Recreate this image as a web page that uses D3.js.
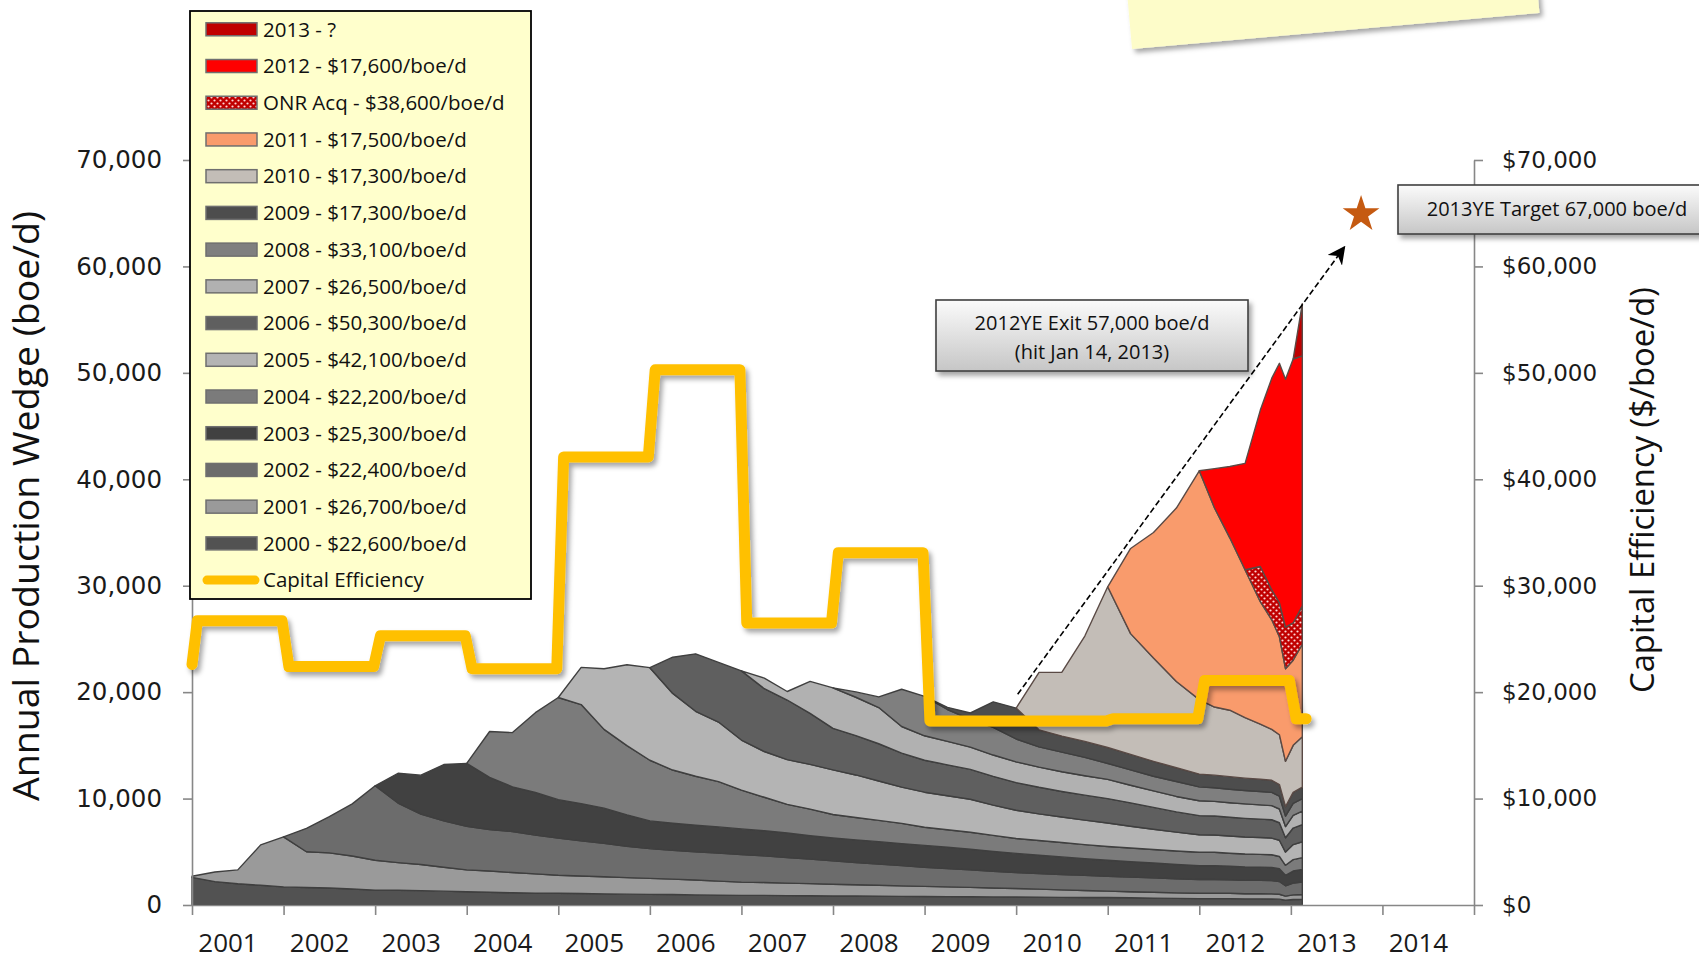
<!doctype html>
<html lang="en">
<head>
<meta charset="utf-8">
<title>Annual Production Wedge and Capital Efficiency</title>
<style>
  body { margin: 0; background: #fff; overflow: hidden; }
  svg { display: block; }
</style>
</head>
<body>
<div id="chart"></div>

<script src="https://d3js.org/d3.v7.min.js"></script>
<script>

const width = 1699;
const height = 961;

// months since Jan 2001 (quarterly, denser near the end of the record)
const months = [0,3,6,9,12,15,18,21,24,27,30,33,36,39,42,45,48,51,54,57,60,63,66,69,72,75,78,81,84,87,90,93,96,99,102,105,108,111,114,117,120,123,126,129,
                132,134,136,138,140,141.5,142.5,143.3,144.3,145.5];

// production of each yearly wedge, thousand boe/d
const prod2000 = [2.6,2.2,2.0,1.85,1.7,1.65,1.6,1.5,1.4,1.38,1.35,1.3,1.25,1.2,1.15,1.12,1.1,1.08,1.05,1.02,1.0,0.98,0.95,0.92,0.9,0.9,0.88,0.87,0.85,0.84,0.82,0.81,0.8,0.79,0.78,0.76,0.75,0.74,0.72,0.71,0.7,0.68,0.65,0.62,
                  0.6,0.6,0.6,0.58,0.58,0.57,0.55,0.45,0.52,0.54];
const prod2001 = [0.1,0.9,1.3,3.8,4.7,3.35,3.3,3.1,2.8,2.6,2.45,2.25,2.05,2.0,1.9,1.8,1.7,1.65,1.6,1.55,1.5,1.45,1.4,1.32,1.25,1.22,1.18,1.14,1.1,1.06,1.03,0.99,0.95,0.91,0.88,0.84,0.8,0.75,0.7,0.65,0.6,0.57,0.55,0.52,
                  0.5,0.5,0.5,0.48,0.48,0.48,0.46,0.38,0.43,0.45];
const prod2002 = [0,0,0,0,0,2.2,3.4,4.9,7.0,5.6,4.75,4.35,4.1,3.9,3.85,3.65,3.5,3.3,3.15,2.95,2.8,2.7,2.65,2.65,2.6,2.5,2.4,2.3,2.2,2.1,2.0,1.9,1.8,1.72,1.65,1.57,1.5,1.47,1.45,1.42,1.4,1.37,1.35,1.32,
                  1.3,1.3,1.27,1.26,1.25,1.24,1.2,0.98,1.12,1.17];
const prod2003 = [0,0,0,0,0,0,0,0,0,2.8,3.65,5.3,5.9,4.9,4.2,4.0,3.6,3.5,3.3,2.95,2.6,2.55,2.5,2.45,2.4,2.35,2.3,2.2,2.15,2.12,2.1,2.07,2.05,2.0,1.93,1.87,1.8,1.72,1.65,1.57,1.5,1.45,1.4,1.35,
                  1.3,1.3,1.27,1.26,1.25,1.24,1.2,0.98,1.12,1.17];
const prod2004 = [0,0,0,0,0,0,0,0,0,0,0,0,0,4.3,5.1,7.5,9.6,9.3,7.4,6.5,5.7,5.0,4.6,4.25,3.65,3.15,2.7,2.5,2.2,2.1,2.0,1.9,1.7,1.65,1.6,1.5,1.4,1.38,1.35,1.32,1.3,1.28,1.27,1.26,
                  1.25,1.25,1.22,1.21,1.2,1.19,1.15,0.94,1.07,1.12];
const prod2005 = [0,0,0,0,0,0,0,0,0,0,0,0,0,0,0,0,0,3.5,5.7,7.6,8.7,7.2,6.1,5.6,4.7,4.3,4.2,4.2,4.2,4.0,3.7,3.4,3.3,3.2,3.1,2.85,2.65,2.5,2.4,2.3,2.2,2.05,1.9,1.78,
                  1.65,1.63,1.62,1.6,1.58,1.57,1.52,1.24,1.42,1.49];
const prod2006 = [0,0,0,0,0,0,0,0,0,0,0,0,0,0,0,0,0,0,0,0,0,3.4,5.4,5.6,6.5,5.9,5.6,4.8,3.9,3.7,3.5,3.2,3.0,2.9,2.8,2.7,2.6,2.5,2.4,2.35,2.3,2.2,2.05,1.9,
                  1.8,1.78,1.76,1.75,1.73,1.72,1.65,1.35,1.55,1.62];
const prod2007 = [0,0,0,0,0,0,0,0,0,0,0,0,0,0,0,0,0,0,0,0,0,0,0,0,0,1.0,0.8,3.0,3.8,3.6,3.4,2.5,2.3,2.2,2.1,2.0,1.95,1.9,1.85,1.82,1.8,1.65,1.55,1.45,
                  1.4,1.38,1.37,1.36,1.34,1.33,1.29,1.05,1.2,1.26];
const prod2008 = [0,0,0,0,0,0,0,0,0,0,0,0,0,0,0,0,0,0,0,0,0,0,0,0,0,0,0,0,0,0.5,1.0,3.5,3.7,3.0,2.6,2.6,2.15,1.9,1.85,1.73,1.5,1.45,1.38,1.4,
                  1.3,1.28,1.27,1.26,1.25,1.24,1.2,0.98,1.12,1.17];
const prod2009 = [0,0,0,0,0,0,0,0,0,0,0,0,0,0,0,0,0,0,0,0,0,0,0,0,0,0,0,0,0,0,0,0,0,0.2,0.6,2.4,2.9,1.6,1.5,1.5,1.5,1.45,1.4,1.3,
                  1.2,1.18,1.18,1.16,1.15,1.14,1.1,0.9,1.03,1.08];
const prod2010 = [0,0,0,0,0,0,0,0,0,0,0,0,0,0,0,0,0,0,0,0,0,0,0,0,0,0,0,0,0,0,0,0,0,0,0,0,0,5.4,6.0,9.9,15.1,11.35,9.7,8.1,
                  7.0,6.4,6.24,5.68,5.19,4.78,4.68,4.25,4.42,4.73];
const prod2011 = [0,0,0,0,0,0,0,0,0,0,0,0,0,0,0,0,0,0,0,0,0,0,0,0,0,0,0,0,0,0,0,0,0,0,0,0,0,0,0,0,0,8.0,11.8,16.3,
                  21.5,18.7,16.2,13.9,11.5,10.3,9.2,8.7,8.0,8.7];
const prodOnr  = [0,0,0,0,0,0,0,0,0,0,0,0,0,0,0,0,0,0,0,0,0,0,0,0,0,0,0,0,0,0,0,0,0,0,0,0,0,0,0,0,0,0,0,0,
                  0,0,0,0,3.3,2.8,3.2,3.9,3.5,3.6];
const prod2012 = [0,0,0,0,0,0,0,0,0,0,0,0,0,0,0,0,0,0,0,0,0,0,0,0,0,0,0,0,0,0,0,0,0,0,0,0,0,0,0,0,0,0,0,0,
                  0,3.7,6.7,10.0,14.7,19.9,22.5,23.3,24.8,23.5];
const prod2013 = [0,0,0,0,0,0,0,0,0,0,0,0,0,0,0,0,0,0,0,0,0,0,0,0,0,0,0,0,0,0,0,0,0,0,0,0,0,0,0,0,0,0,0,0,
                  0,0,0,0,0,0,0,0,0,4.9];

const wedgeKeys = ["2000","2001","2002","2003","2004","2005","2006","2007","2008","2009","2010","2011","ONR Acq","2012","2013"];
const wedgeCosts = [22600,26700,22400,25300,22200,42100,50300,26500,33100,17300,17300,17500,38600,17600,null]; // $/boe/d
const wedgeValues = [prod2000,prod2001,prod2002,prod2003,prod2004,prod2005,prod2006,prod2007,prod2008,prod2009,prod2010,prod2011,prodOnr,prod2012,prod2013];

// capital efficiency by year, thousand $/boe/d
const capYears = [2000,2001,2002,2003,2004,2005,2006,2007,2008,2009,2010,2011,2012,2013];
const capEfficiency = [22.6,26.7,22.4,25.3,22.2,42.1,50.3,26.5,33.1,17.3,17.3,17.5,21.1,17.5];

const yearLabels = ["2001","2002","2003","2004","2005","2006","2007","2008","2009","2010","2011","2012","2013","2014"];
const yTicks = [0,10,20,30,40,50,60,70];

// annotations (month since Jan 2001, thousand boe/d)
const trendFrom = [108.2, 19.8];
const trendTo = [151.0, 61.8];
const target = [153.2, 64.9];

const wedgeColors = {
  "2000": "#525252", "2001": "#9a9a9a", "2002": "#6c6c6c", "2003": "#414141",
  "2004": "#7b7b7b", "2005": "#b4b4b4", "2006": "#5f5f5f", "2007": "#b1b1b1",
  "2008": "#7f7f7f", "2009": "#4d4d4d", "2010": "#c3bdb7", "2011": "#f99b6c",
  "ONR Acq": "url(#onrDots)", "2012": "#ff0000", "2013": "#c00000"
};

const svg = d3.select("#chart").append("svg")
    .attr("width", width)
    .attr("height", height)
    .attr("viewBox", "0 0 " + width + " " + height);

const defs = svg.append("defs");

const dots = defs.append("pattern")
    .attr("id", "onrDots")
    .attr("patternUnits", "userSpaceOnUse")
    .attr("width", 6).attr("height", 6);
dots.append("rect").attr("width", 6).attr("height", 6).attr("fill", "#c00000");
dots.append("circle").attr("cx", 1.5).attr("cy", 1.5).attr("r", 1.1).attr("fill", "#ffd6d6");
dots.append("circle").attr("cx", 4.5).attr("cy", 4.5).attr("r", 1.1).attr("fill", "#ffd6d6");

defs.append("filter").attr("id", "shadow")
    .attr("x", "-10%").attr("y", "-10%").attr("width", "130%").attr("height", "140%")
  .append("feDropShadow")
    .attr("dx", 3).attr("dy", 4).attr("stdDeviation", 2.5)
    .attr("flood-color", "#000").attr("flood-opacity", 0.35);

const boxGrad = defs.append("linearGradient")
    .attr("id", "boxGrad").attr("x1", 0).attr("y1", 0).attr("x2", 0).attr("y2", 1);
boxGrad.append("stop").attr("offset", "0%").attr("stop-color", "#fbfbfb");
boxGrad.append("stop").attr("offset", "100%").attr("stop-color", "#c6c6c6");

defs.append("marker")
    .attr("id", "arrowHead")
    .attr("markerUnits", "userSpaceOnUse")
    .attr("viewBox", "0 0 10 10")
    .attr("refX", 9).attr("refY", 5)
    .attr("markerWidth", 18).attr("markerHeight", 18)
    .attr("orient", "auto")
  .append("path")
    .attr("d", "M0,0 L10,5 L0,10 L3,5 Z")
    .attr("fill", "#000");

const x = d3.scaleLinear().domain([0, 168]).range([192, 1474]);
const y = d3.scaleLinear().domain([0, 70]).range([905, 160]);

// sticky note at the top
svg.append("rect")
    .attr("x", 1132).attr("y", 49 - 160)
    .attr("width", 409).attr("height", 160)
    .attr("fill", "#fdfcc9")
    .attr("filter", "url(#shadow)")
    .attr("transform", "rotate(-5.06 1132 49)");

// stacked production wedges
const rows = months.map(function (m, i) {
    const r = {month: m};
    wedgeKeys.forEach(function (k, j) { r[k] = wedgeValues[j][i]; });
    return r;
});
const layers = d3.stack().keys(wedgeKeys)(rows);

const area = d3.area()
    .x(d => x(d.data.month))
    .y0(d => y(d[0]))
    .y1(d => y(d[1]));

const gArea = svg.append("g");
layers.forEach(function (layer, j) {
    const first = wedgeValues[j].findIndex(v => v > 0);
    gArea.append("path")
        .datum(layer.slice(Math.max(0, first - 1)))
        .attr("d", area)
        .attr("fill", wedgeColors[layer.key])
        .attr("stroke", j >= 10 ? "#5a4a45" : "#3f3f3f")
        .attr("stroke-width", 1.4)
        .attr("stroke-linejoin", "round");
});

// axes
const axisColor = "#878787";

const leftAxis = svg.append("g")
    .attr("transform", "translate(192,0)")
    .call(d3.axisLeft(y).tickValues(yTicks).tickSize(9).tickSizeOuter(0).tickPadding(21)
        .tickFormat(d => d3.format(",")(d * 1000)));

const rightAxis = svg.append("g")
    .attr("transform", "translate(1474,0)")
    .call(d3.axisRight(y).tickValues(yTicks).tickSize(9).tickSizeOuter(0).tickPadding(19)
        .tickFormat(d => "$" + d3.format(",")(d * 1000)));

const bottomAxis = svg.append("g")
    .attr("transform", "translate(0,905)")
    .call(d3.axisBottom(x).tickValues(d3.range(0, 169, 12)).tickSize(10).tickSizeOuter(0).tickFormat(""));

[leftAxis, rightAxis, bottomAxis].forEach(function (a) {
    a.selectAll("path, line").attr("stroke", axisColor).attr("stroke-width", 1.6);
    a.selectAll("text").attr("fill", "#1a1a1a").style("font-family", "'DejaVu Sans', Verdana, sans-serif");
});
leftAxis.selectAll("text").style("font-size", "24.5px");
rightAxis.selectAll("text").style("font-size", "23px");

svg.append("g").selectAll("text")
    .data(yearLabels)
    .join("text")
    .attr("x", (d, i) => x(i * 12) + 36)
    .attr("y", 952)
    .attr("text-anchor", "middle")
    .style("font-family", "'Open Sans', sans-serif")
    .style("font-size", "26px")
    .attr("fill", "#1a1a1a")
    .text(d => d);

svg.append("text")
    .attr("transform", "translate(39,506) rotate(-90)")
    .attr("text-anchor", "middle")
    .attr("textLength", 590)
    .attr("lengthAdjust", "spacingAndGlyphs")
    .style("font-family", "'Open Sans', sans-serif")
    .style("font-size", "36px")
    .attr("fill", "#111")
    .text("Annual Production Wedge (boe/d)");

svg.append("text")
    .attr("transform", "translate(1654,490) rotate(-90)")
    .attr("text-anchor", "middle")
    .attr("textLength", 406)
    .attr("lengthAdjust", "spacingAndGlyphs")
    .style("font-family", "'Open Sans', sans-serif")
    .style("font-size", "32px")
    .attr("fill", "#111")
    .text("Capital Efficiency ($/boe/d)");

// capital efficiency step line
const capPoints = [[0, capEfficiency[0]]];
for (let k = 1; k < capYears.length; k++) {
    const start = 12 * (k - 1) + 0.7;
    const end = k === capYears.length - 1 ? 146 : 12 * k - 0.2;
    capPoints.push([start, capEfficiency[k]], [end, capEfficiency[k]]);
}
svg.append("path")
    .datum(capPoints)
    .attr("d", d3.line().x(d => x(d[0])).y(d => y(d[1])))
    .attr("fill", "none")
    .attr("stroke", "#ffc000")
    .attr("stroke-width", 11)
    .attr("stroke-linejoin", "round")
    .attr("stroke-linecap", "round")
    .attr("filter", "url(#shadow)");

// trend arrow and target star
svg.append("line")
    .attr("x1", x(trendFrom[0])).attr("y1", y(trendFrom[1]))
    .attr("x2", x(trendTo[0])).attr("y2", y(trendTo[1]))
    .attr("stroke", "#000")
    .attr("stroke-width", 1.6)
    .attr("stroke-dasharray", "6,3")
    .attr("marker-end", "url(#arrowHead)");

svg.append("path")
    .attr("transform", "translate(" + x(target[0]) + "," + y(target[1]) + ")")
    .attr("d", d3.symbol().type(d3.symbolStar).size(420)())
    .attr("fill", "#c55a11");

// callout boxes
function callout(bx, by, bw, bh, lines, cx, baselines) {
    const g = svg.append("g");
    g.append("rect")
        .attr("x", bx).attr("y", by).attr("width", bw).attr("height", bh)
        .attr("fill", "url(#boxGrad)")
        .attr("stroke", "#404040").attr("stroke-width", 1.6)
        .attr("filter", "url(#shadow)");
    lines.forEach(function (t, i) {
        g.append("text")
            .attr("x", cx).attr("y", baselines[i])
            .attr("text-anchor", "middle")
            .style("font-family", "'Open Sans', sans-serif")
            .style("font-size", "20px")
            .attr("fill", "#111")
            .text(t);
    });
}
callout(936, 300, 312, 71, ["2012YE Exit 57,000 boe/d", "(hit Jan 14, 2013)"], 1092, [330, 359]);
callout(1398, 185, 330, 49, ["2013YE Target 67,000 boe/d"], 1557, [216]);

// legend
const legend = svg.append("g");
legend.append("rect")
    .attr("x", 190).attr("y", 11).attr("width", 341).attr("height", 588)
    .attr("fill", "#ffffcc")
    .attr("stroke", "#000").attr("stroke-width", 1.8);

const legendItems = wedgeKeys.map(function (k, j) {
    const cost = wedgeCosts[j];
    return {key: k, label: k + " - " + (cost ? "$" + d3.format(",")(cost) + "/boe/d" : "?")};
}).reverse();

const rowY = i => 29.3 + 36.72 * i;

legend.selectAll("rect.sw")
    .data(legendItems)
    .join("rect")
    .attr("class", "sw")
    .attr("x", 206).attr("y", (d, i) => rowY(i) - 6.5)
    .attr("width", 51).attr("height", 13)
    .attr("fill", d => wedgeColors[d.key])
    .attr("stroke", "#6f6f6f").attr("stroke-width", 1.5);

legend.selectAll("text.lab")
    .data(legendItems)
    .join("text")
    .attr("class", "lab")
    .attr("x", 263).attr("y", (d, i) => rowY(i) + 7.3)
    .style("font-family", "'Open Sans', sans-serif")
    .style("font-size", "20.5px")
    .attr("fill", "#111")
    .text(d => d.label);

const capRow = rowY(legendItems.length);
legend.append("line")
    .attr("x1", 207).attr("x2", 255).attr("y1", capRow).attr("y2", capRow)
    .attr("stroke", "#ffc000").attr("stroke-width", 9).attr("stroke-linecap", "round");
legend.append("text")
    .attr("x", 263).attr("y", capRow + 7.3)
    .style("font-family", "'Open Sans', sans-serif")
    .style("font-size", "20.5px")
    .attr("fill", "#111")
    .text("Capital Efficiency");

</script>
</body>
</html>
